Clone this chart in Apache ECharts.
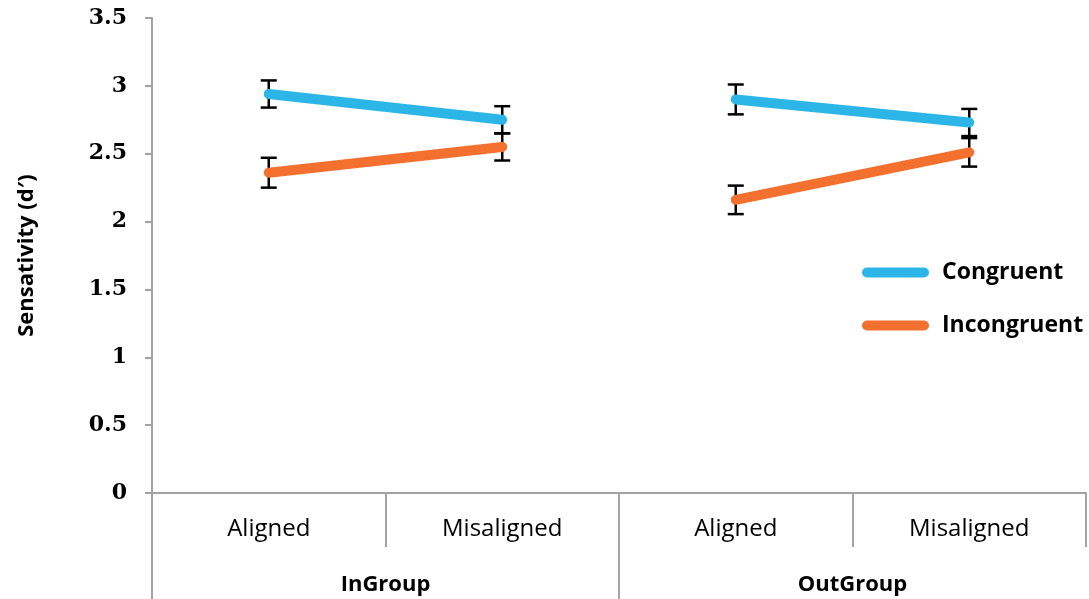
<!DOCTYPE html>
<html>
<head>
<meta charset="utf-8">
<script src="https://cdn.jsdelivr.net/npm/echarts@6/dist/echarts.min.js"></script>
<style>
  html, body { margin: 0; padding: 0; background: #ffffff; }
  #chart { width: 1089px; height: 599px; }
</style>
</head>
<body>
<div id="chart"></div>
<script>
// Conditions along the x axis and the groups they belong to
const categories = ['Aligned', 'Misaligned', 'Aligned', 'Misaligned'];
const groups = ['InGroup', 'OutGroup'];

// Mean sensitivity (d') and error-bar half widths per condition
const congruent = [2.94, 2.75, 2.90, 2.73];
const congruentErr = [0.10, 0.10, 0.11, 0.10];
const incongruent = [2.36, 2.55, 2.16, 2.51];
const incongruentErr = [0.11, 0.10, 0.105, 0.105];

const yTicks = { min: 0, max: 3.5, interval: 0.5 };

const BLUE = '#2BB6E7';
const ORANGE = '#F3702F';
const AXIS = '#A3A3A3';
const SANS = '"Open Sans", "Noto Sans", sans-serif';

// one line segment per group, so the lines break between groups
function segments(name, values, color) {
  return groups.map((g, gi) => ({
    name: name,
    type: 'line',
    xAxisIndex: 0,
    yAxisIndex: 0,
    data: values.map((v, i) => (Math.floor(i / 2) === gi ? v : '-')),
    showSymbol: false,
    symbol: 'none',
    color: color,
    itemStyle: { color: color },
    lineStyle: { color: color, width: 10, cap: 'round', join: 'round' },
    z: 5,
    silent: true
  }));
}

function errorBars(values, errs) {
  return {
    type: 'custom',
    xAxisIndex: 0,
    yAxisIndex: 0,
    data: values.map((v, i) => [i, v, errs[i]]),
    encode: { x: 0, y: 1 },
    z: 3,
    silent: true,
    renderItem: function (params, api) {
      const i = api.value(0), v = api.value(1), e = api.value(2);
      const top = api.coord([i, v + e]);
      const bot = api.coord([i, v - e]);
      const hw = 8;
      const st = { stroke: '#000000', lineWidth: 2.5 };
      return {
        type: 'group',
        children: [
          { type: 'line', shape: { x1: top[0], y1: top[1], x2: bot[0], y2: bot[1] }, style: st },
          { type: 'line', shape: { x1: top[0] - hw, y1: top[1], x2: top[0] + hw, y2: top[1] }, style: st },
          { type: 'line', shape: { x1: bot[0] - hw, y1: bot[1], x2: bot[0] + hw, y2: bot[1] }, style: st }
        ]
      };
    }
  };
}

const chart = echarts.init(document.getElementById('chart'), null, { renderer: 'canvas' });

chart.setOption({
  animation: false,
  backgroundColor: '#ffffff',
  grid: [
    { left: 152, right: 3, top: 18, bottom: 106 },
    { left: 152, right: 3, top: 493, bottom: 0 }
  ],
  legend: {
    data: ['Congruent', 'Incongruent'],
    orient: 'vertical',
    left: 862,
    top: 261,
    padding: 0,
    itemWidth: 67,
    itemHeight: 10,
    itemGap: 30,
    icon: 'path://M5,0 L62,0 A5,5 0 0 1 62,10 L5,10 A5,5 0 0 1 5,0 Z',
    textStyle: {
      fontFamily: SANS,
      fontWeight: 'bold',
      fontSize: 23,
      color: '#000000',
      padding: [0, 0, 0, 8]
    },
    selectedMode: false
  },
  xAxis: [
    {
      type: 'category',
      gridIndex: 0,
      data: categories,
      boundaryGap: true,
      axisLine: { show: true, lineStyle: { color: AXIS, width: 2 } },
      axisTick: { show: true, interval: 0, length: 54, lineStyle: { color: AXIS, width: 2 } },
      axisLabel: {
        interval: 0,
        margin: 24,
        fontFamily: SANS,
        fontSize: 24,
        color: '#000000'
      },
      splitLine: { show: false }
    },
    {
      type: 'category',
      gridIndex: 1,
      data: groups,
      boundaryGap: true,
      position: 'bottom',
      axisLine: { show: false },
      axisTick: { show: false },
      axisLabel: {
        inside: true,
        interval: 0,
        margin: 3,
        fontFamily: SANS,
        fontWeight: 'bold',
        fontSize: 22,
        color: '#000000'
      },
      splitLine: {
        show: true,
        interval: 0,
        showMinLine: true,
        showMaxLine: false,
        lineStyle: { color: AXIS, width: 2 }
      }
    }
  ],
  yAxis: [
    {
      type: 'value',
      gridIndex: 0,
      min: yTicks.min,
      max: yTicks.max,
      interval: yTicks.interval,
      name: 'Sensativity (d\u2032)',
      nameLocation: 'middle',
      nameRotate: 90,
      nameGap: 114,
      nameTextStyle: {
        fontFamily: SANS,
        fontWeight: 'bold',
        fontSize: 22,
        color: '#000000'
      },
      axisLine: { show: true, lineStyle: { color: AXIS, width: 2 } },
      axisTick: { show: true, length: 7, lineStyle: { color: AXIS, width: 2 } },
      axisLabel: {
        margin: 25,
        fontFamily: 'DejaVu Serif',
        fontWeight: 'bold',
        fontSize: 22,
        color: '#000000'
      },
      splitLine: { show: false }
    },
    {
      type: 'value',
      gridIndex: 1,
      show: false
    }
  ],
  series: [
    errorBars(congruent, congruentErr),
    errorBars(incongruent, incongruentErr),
    ...segments('Congruent', congruent, BLUE),
    ...segments('Incongruent', incongruent, ORANGE)
  ]
});
</script>
</body>
</html>
